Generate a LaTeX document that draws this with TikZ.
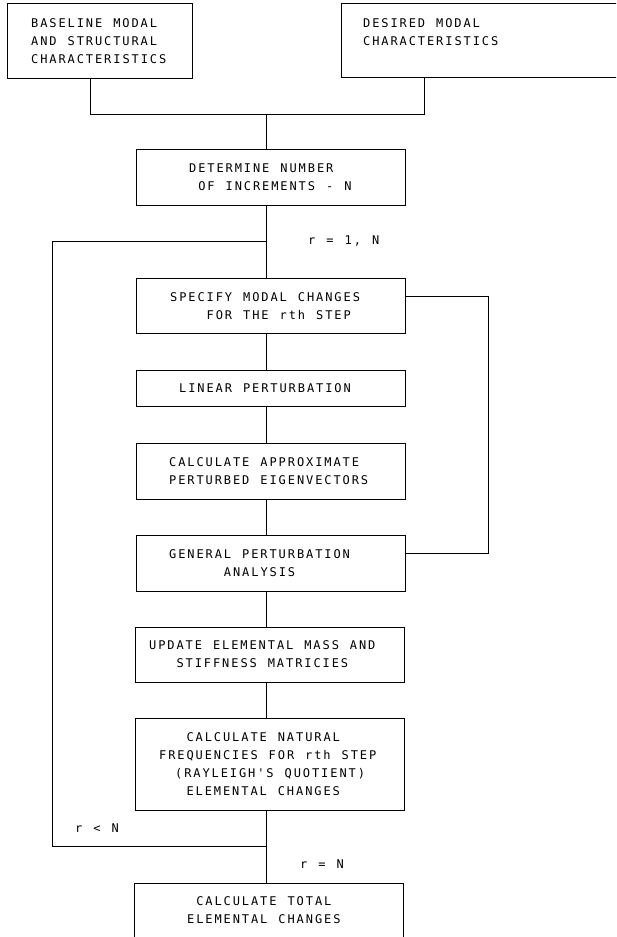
\documentclass[tikz,border=0pt]{standalone}
\usepackage{fontspec}
\newfontfamily\plotfont[LetterSpace=15.9]{DejaVu Sans Mono}
\newlength{\cw}
\setlength{\cw}{9.13pt}
\newcommand{\ind}[1]{\hspace*{#1\cw}}
% plotter lettering: fixed pitch, word spaces of one full cell
\newcommand{\plotsetup}{\plotfont\fontsize{12}{18}\selectfont
  \fontdimen2\font=11pt\fontdimen3\font=0pt\fontdimen4\font=0pt}
\tikzset{
  box/.style={draw, line width=0.9pt, rectangle, inner sep=0pt},
  txt/.style={font=\plotsetup, align=left, inner sep=0pt, anchor=west},
  wire/.style={line width=0.9pt}
}
\begin{document}
\begin{tikzpicture}[x=1pt, y=-1pt]
\useasboundingbox (0,0) rectangle (616,937);
\clip (0,0) rectangle (616,937);
\fill[white] (0,0) rectangle (616,937);

% boxes
\node[box, minimum width=185pt, minimum height=75pt] (b1) at (99.5,40.5) {};
\node[box, minimum width=289pt, minimum height=74pt] (b2) at (485.5,40) {};
\node[box, minimum width=269pt, minimum height=56pt] (b3) at (270.5,177) {};
\node[box, minimum width=269pt, minimum height=55pt] (b4) at (270.5,305.5) {};
\node[box, minimum width=269pt, minimum height=36pt] (b5) at (270.5,388) {};
\node[box, minimum width=269pt, minimum height=56pt] (b6) at (270.5,471) {};
\node[box, minimum width=269pt, minimum height=56pt] (b7) at (270.5,563) {};
\node[box, minimum width=269pt, minimum height=55pt] (b8) at (269.5,654.5) {};
\node[box, minimum width=269pt, minimum height=92pt] (b9) at (269.5,764) {};
\node[box, minimum width=269pt, minimum height=80pt] (b10) at (268.5,923) {};

% texts
\node[txt] (t1) at (31,41) {BASELINE MODAL\\AND STRUCTURAL\\CHARACTERISTICS};
\node[txt] (t2) at (363,32) {DESIRED MODAL\\CHARACTERISTICS};
\node[txt] (t3) at (189,177.5) {DETERMINE NUMBER\\\ind{1}OF INCREMENTS - N};
\node[txt] (t4) at (170,306.5) {SPECIFY MODAL CHANGES\\\ind{4}FOR THE rth STEP};
\node[txt] (t5) at (179,388) {LINEAR PERTURBATION};
\node[txt] (t6) at (169,471) {CALCULATE APPROXIMATE\\PERTURBED EIGENVECTORS};
\node[txt] (t7) at (169,563.5) {GENERAL PERTURBATION\\\ind{6}ANALYSIS};
\node[txt] (t8) at (149,654.5) {UPDATE ELEMENTAL MASS AND\\\ind{3}STIFFNESS MATRICIES};
\node[txt] (t9) at (159,764) {\ind{3}CALCULATE NATURAL\\FREQUENCIES FOR rth STEP\\\ind{1.75}(RAYLEIGH'S QUOTIENT)\\\ind{3}ELEMENTAL CHANGES};
\node[txt] (t10) at (187,910.5) {\ind{1}CALCULATE TOTAL\\ELEMENTAL CHANGES};

% loop labels
\node[txt] (la) at (308,241) {r = 1, N};
\node[txt] (lb) at (75,828) {r < N};
\node[txt] (lc) at (300,864) {r = N};

% junction points
\coordinate (j1) at (90,114);
\coordinate (j2) at (424,114);
\coordinate (jm) at (266,114);
\coordinate (l1) at (266,241);
\coordinate (lt) at (52,241);
\coordinate (lbot) at (52,846);
\coordinate (lj) at (266,846);
\coordinate (r1) at (488,296);
\coordinate (r2) at (488,553);

% inputs merge
\draw[wire] (b1.south -| j1) -- (j1) -- (j2) -- (b2.south -| j2);
\draw[wire] (jm) -- (b3.north -| jm);

% main chain
\draw[wire] (b3.south -| jm) -- (b4.north -| jm);
\draw[wire] (b4.south -| jm) -- (b5.north -| jm);
\draw[wire] (b5.south -| jm) -- (b6.north -| jm);
\draw[wire] (b6.south -| jm) -- (b7.north -| jm);
\draw[wire] (b7.south -| jm) -- (b8.north -| jm);
\draw[wire] (b8.south -| jm) -- (b9.north -| jm);
\draw[wire] (b9.south -| jm) -- (b10.north -| jm);

% outer loop
\draw[wire] (l1) -- (lt) -- (lbot) -- (lj);

% inner loop
\draw[wire] (b4.east |- r1) -- (r1) -- (r2) -- (b7.east |- r2);
\end{tikzpicture}
\end{document}
